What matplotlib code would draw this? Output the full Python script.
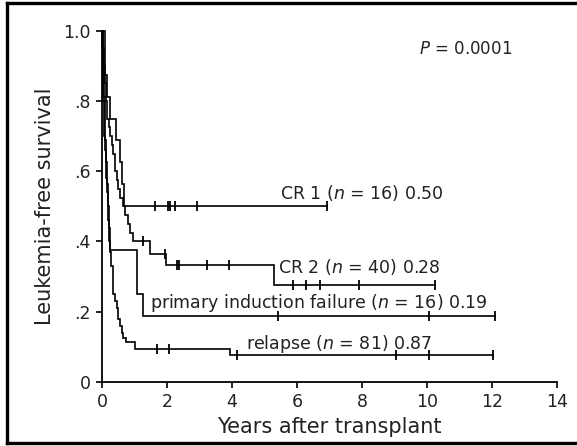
import numpy as np
import matplotlib
matplotlib.use('Agg')
import matplotlib.pyplot as plt
from matplotlib.lines import Line2D

# survival steps (time in years, survival after the step)
cr1_t = [0, 0.09, 0.16, 0.25, 0.43, 0.55, 0.60, 0.68]
cr1_s = [1.0, 0.875, 0.8125, 0.75, 0.6875, 0.625, 0.5625, 0.5]
cr1_end = 6.91
cr1_cens = [1.63, 2.03, 2.09, 2.25, 2.93, 6.91]

cr2_t = [0, 0.03, 0.06, 0.09, 0.12, 0.15, 0.20, 0.25, 0.30, 0.35, 0.40, 0.45,
         0.50, 0.55, 0.65, 0.72, 0.80, 0.85, 0.95, 1.48, 1.98, 5.29]
cr2_s = [1.0, 0.95, 0.9, 0.85, 0.8, 0.75, 0.725, 0.7, 0.675, 0.65, 0.6, 0.575,
         0.55, 0.525, 0.5, 0.475, 0.45, 0.425, 0.4, 0.365, 0.332, 0.276]
cr2_end = 10.25
cr2_cens = [1.27, 1.94, 2.32, 2.36, 3.24, 3.92, 5.87, 6.28, 6.71, 7.92, 10.25]

pif_t = [0, 0.02, 0.04, 0.06, 0.08, 0.10, 0.12, 0.15, 0.18, 0.22, 0.25, 1.07, 1.27]
pif_s = [1.0, 0.9375, 0.875, 0.8125, 0.75, 0.6875, 0.625, 0.5625, 0.5, 0.4375,
         0.375, 0.25, 0.1875]
pif_end = 12.09
pif_cens = [5.43, 10.06, 12.09]

rel_t = [0, 0.01, 0.02, 0.03, 0.04, 0.05, 0.07, 0.09, 0.11, 0.13, 0.15, 0.17,
         0.19, 0.21, 0.23, 0.25, 0.28, 0.34, 0.40, 0.45, 0.50, 0.55, 0.60,
         0.65, 0.75, 1.00, 3.94]
rel_s = [1.0, 0.95, 0.9, 0.85, 0.8, 0.75, 0.7, 0.66, 0.62, 0.58, 0.54, 0.5,
         0.46, 0.43, 0.40, 0.37, 0.33, 0.25, 0.23, 0.21, 0.18, 0.16, 0.14,
         0.125, 0.114, 0.093, 0.076]
rel_end = 12.04
rel_cens = [1.68, 2.07, 4.14, 9.04, 10.06, 12.04]

labels = ['CR 1 ($n$ = 16) 0.50', 'CR 2 ($n$ = 40) 0.28',
          'primary induction failure ($n$ = 16) 0.19', 'relapse ($n$ = 81) 0.87']
label_pos = [(5.48, 0.538), (5.42, 0.326), (1.48, 0.224), (4.43, 0.108)]


def km_draw(ax, t, s, end, cens):
    tt = list(t) + [end]
    ss = list(s) + [s[-1]]
    ax.step(tt, ss, where='post', color='black', lw=1.2, clip_on=False,
            solid_joinstyle='miter')
    # censor ticks sit on the curve at the censoring time
    t_arr = np.array(t)
    for c in cens:
        idx = np.searchsorted(t_arr, c, side='right') - 1
        ax.plot([c], [s[idx]], marker='|', ms=7, mew=1.3, color='black',
                clip_on=False)


fig = plt.figure(figsize=(5.77, 4.46), dpi=100)
ax = fig.add_axes([0.1768, 0.1435, 0.7885, 0.7877])

km_draw(ax, cr1_t, cr1_s, cr1_end, cr1_cens)
km_draw(ax, cr2_t, cr2_s, cr2_end, cr2_cens)
km_draw(ax, pif_t, pif_s, pif_end, pif_cens)
km_draw(ax, rel_t, rel_s, rel_end, rel_cens)

for txt, (x, y) in zip(labels, label_pos):
    ax.text(x, y, txt, fontsize=12.5, va='center', ha='left', color='#222222')

ax.text(9.75, 0.947, '$P$ = 0.0001', fontsize=12, va='center', ha='left',
        color='#222222')

ax.set_xlim(0, 14)
ax.set_ylim(0, 1.0)
ax.set_xticks(range(0, 15, 2))
ax.set_yticks([0, 0.2, 0.4, 0.6, 0.8, 1.0])
ax.set_yticklabels(['0', '.2', '.4', '.6', '.8', '1.0'])
ax.tick_params(direction='out', length=4.5, width=1.2, labelsize=12.5,
               colors='black', labelcolor='#222222')
for side in ['top', 'right']:
    ax.spines[side].set_visible(False)
for side in ['left', 'bottom']:
    ax.spines[side].set_linewidth(1.3)

ax.set_xlabel('Years after transplant', fontsize=15, color='#222222', labelpad=4)
ax.set_ylabel('Leukemia-free survival', fontsize=15, color='#222222', labelpad=6)

# outer frame: top, left and bottom edges
fig.add_artist(Line2D([0.0121, 1.0], [0.9933, 0.9933], color='black', lw=2.4))
fig.add_artist(Line2D([0.0121, 0.0121], [0.0067, 0.9933], color='black', lw=2.4))
fig.add_artist(Line2D([0.0121, 1.0], [0.0067, 0.0067], color='black', lw=2.4))

fig.savefig('out.png', dpi=100)
